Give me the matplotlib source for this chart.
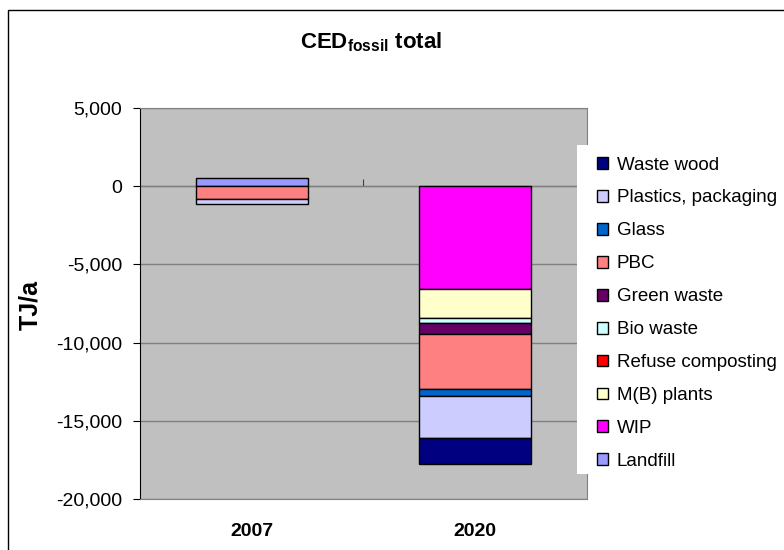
import matplotlib
matplotlib.use('Agg')
import matplotlib.pyplot as plt
import numpy as np
from matplotlib.patches import Patch, Rectangle
from matplotlib.ticker import FuncFormatter

plt.rcParams['font.family'] = ['Liberation Sans', 'DejaVu Sans']
plt.rcParams['mathtext.fontset'] = 'custom'
plt.rcParams['mathtext.rm'] = 'Liberation Sans'
plt.rcParams['mathtext.bf'] = 'Liberation Sans:bold'

categories = ['2007', '2020']
series = ['Landfill', 'WIP', 'M(B) plants', 'Refuse composting', 'Bio waste',
          'Green waste', 'PBC', 'Glass', 'Plastics, packaging', 'Waste wood']
values_2007 = [500, 0, 0, 0, 0, 0, -800, 0, -340, 0]
values_2020 = [0, -6600, -1800, 0, -320, -750, -3500, -430, -2720, -1660]
colors = ['#9999FF', '#FF00FF', '#FFFFCC', '#FF0000', '#CCFFFF',
          '#660066', '#FF8080', '#0066CC', '#CCCCFF', '#000080']
yticks = [-20000, -15000, -10000, -5000, 0, 5000]

W, H = 784, 550
fig = plt.figure(figsize=(W / 100, H / 100), dpi=100)
ax = fig.add_axes([140 / W, 51 / H, 447 / W, 391 / H])
ax.set_facecolor('#C0C0C0')
ax.set_xlim(-0.5, 1.5)
ax.set_ylim(yticks[0], yticks[-1])
ax.set_yticks(yticks)
ax.yaxis.set_major_formatter(FuncFormatter(lambda v, p: f'{int(v):,}'))
ax.grid(axis='y', color='#808080', lw=1)
ax.set_axisbelow(True)

x = np.arange(len(categories))
data = np.array([values_2007, values_2020], dtype=float).T
pos_bottom = np.zeros(len(categories))
neg_bottom = np.zeros(len(categories))
for name, vals, col in zip(series, data, colors):
    bottoms = np.where(vals >= 0, pos_bottom, neg_bottom)
    mask = vals != 0
    ax.bar(x[mask], vals[mask], 0.5, bottom=bottoms[mask], color=col,
           edgecolor='black', lw=1, zorder=3)
    pos_bottom += np.clip(vals, 0, None)
    neg_bottom += np.clip(vals, None, 0)

for s in ['top', 'right', 'bottom']:
    ax.spines[s].set_color('#808080')
ax.spines['left'].set_color('black')
ax.set_xticks(x)
ax.set_xticklabels(categories, fontsize=14, fontweight='bold')
ax.tick_params(axis='x', length=0, pad=17)
ax.tick_params(axis='y', length=5, direction='out', pad=8, labelsize=14, color='black')

# zero line (category axis crossing at 0)
sec = ax.secondary_xaxis((0 - yticks[0]) / (yticks[-1] - yticks[0]))
sec.spines['bottom'].set_color('#404040')
sec.set_xticks([0.5])
sec.set_xticklabels([''])
sec.tick_params(length=5, direction='out', color='#404040')

fig.text(30 / W, 1 - 305 / H, 'TJ/a', rotation=90, fontsize=18, fontweight='bold',
         ha='center', va='center')
fig.text(371 / W, 1 - 48 / H, r'$\mathbf{CED_{fossil}}$ total', fontsize=16,
         fontweight='bold', ha='center', va='baseline')

# legend box
fig.patches.append(Rectangle((577 / W, 1 - 474 / H), 1, (474 - 145) / H,
                             transform=fig.transFigure, facecolor='white',
                             edgecolor='none', zorder=4))
handles = [Patch(facecolor=c, edgecolor='black', lw=1) for c in colors][::-1]
leg = fig.legend(handles, series[::-1], loc='upper left',
                 bbox_to_anchor=(597 / W, 1 - 156.5 / H), frameon=False,
                 fontsize=13.5, borderpad=0, borderaxespad=0,
                 handlelength=0.6, handleheight=0.6, handletextpad=0.45,
                 labelspacing=0.85)
leg.set_zorder(6)

# chart border
fig.patches.append(Rectangle((8 / W, -0.1), 2, 0.1 + 1 - 10 / H,
                             transform=fig.transFigure, fill=False,
                             edgecolor='black', lw=1, zorder=7))

fig.savefig('out.png', dpi=100)
